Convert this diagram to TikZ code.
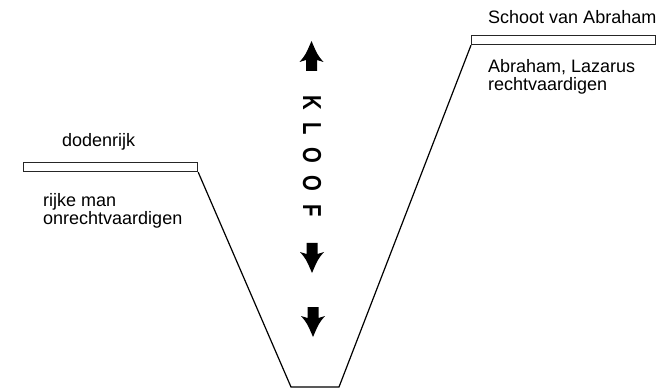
\documentclass[tikz,border=0pt]{standalone}
\usepackage{fontspec}
\setmainfont{Liberation Sans}
\begin{document}
\begin{tikzpicture}[x=1pt,y=-1pt,
  lbl/.style={anchor=base west, inner sep=0pt, font=\fontsize{18}{18}\selectfont},
  ledge/.style={draw=black!85, line width=1.2pt, minimum height=9pt, inner sep=0pt, anchor=north west},
  vline/.style={line width=1.2pt, line join=miter},
  blockarrow/.pic={\fill (-5.5,0) -- (5.5,0) -- (5.5,11) -- (12,9) .. controls (6,16) .. (0,30) .. controls (-6,16) .. (-12,9) -- (-5.5,11) -- cycle;}]
\useasboundingbox (0,0) rectangle (664,390);
\node[ledge, minimum width=174pt] (hel) at (23,162) {};
\node[ledge, minimum width=184pt] (abr) at (471,35) {};
\coordinate (bl) at (291,387);
\coordinate (br) at (339,387);
\draw[vline] (hel.south east) -- (bl) -- (br) -- (abr.south west);
\node[lbl] (dod) at (62,147) {dodenrijk};
\node[lbl] (rm1) at (43,207) {rijke man};
\node[lbl] (rm2) at (43,225) {onrechtvaardigen};
\node[lbl] (sch) at (488,24) {Schoot van Abraham};
\node[lbl] (al1) at (488,73) {Abraham, Lazarus};
\node[lbl] (al2) at (488,91) {rechtvaardigen};
\node[rotate=-90, inner sep=0pt, font=\fontsize{26}{26}\selectfont\bfseries] (kloof) at (312,156) {\scalebox{0.78}[1]{K\kern16pt L\kern16pt O\kern16pt O\kern16pt F}};
\pic[rotate=180] (up) at (311.5,71) {blockarrow};
\pic (dn1) at (312,243) {blockarrow};
\pic (dn2) at (313,307) {blockarrow};
\end{tikzpicture}
\end{document}
